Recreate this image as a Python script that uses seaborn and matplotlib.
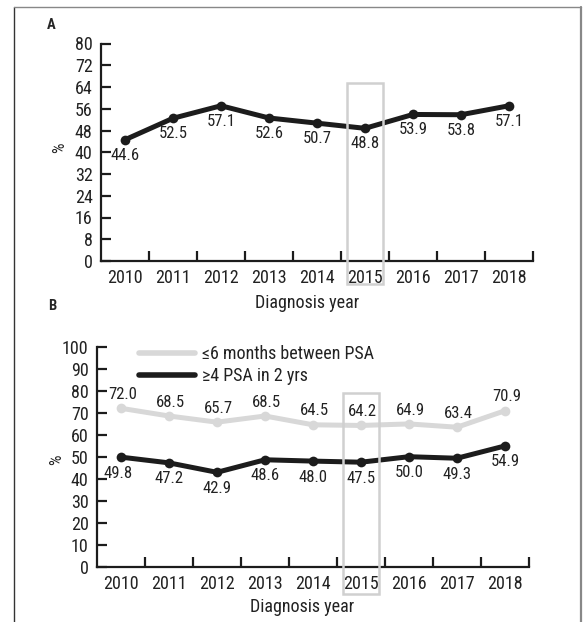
import matplotlib
matplotlib.use("Agg")
import matplotlib.pyplot as plt
from matplotlib import font_manager as fm
from matplotlib.patches import Rectangle
from matplotlib.lines import Line2D
import seaborn as sns
import pandas as pd

years = ["2010", "2011", "2012", "2013", "2014", "2015", "2016", "2017", "2018"]
panel_a = [44.6, 52.5, 57.1, 52.6, 50.7, 48.8, 53.9, 53.8, 57.1]
within_6m = [72.0, 68.5, 65.7, 68.5, 64.5, 64.2, 64.9, 63.4, 70.9]
four_psa = [49.8, 47.2, 42.9, 48.6, 48.0, 47.5, 50.0, 49.3, 54.9]
label_6m = "≤6 months between PSA"
label_4psa = "≥4 PSA in 2 yrs"
highlight_year = "2015"

sns.set_theme(style="white")

# pick a condensed sans if one is installed
names = {f.name for f in fm.fontManager.ttflist}
family = ["Liberation Sans", "DejaVu Sans"]
stretch = "normal"
for cand in ["Liberation Sans Narrow", "Roboto Condensed", "Open Sans Condensed", "Noto Sans Condensed"]:
    if cand in names:
        family = [cand, "Liberation Sans", "DejaVu Sans"]
        break
else:
    cond = [f for f in fm.fontManager.ttflist
            if f.name in ("DejaVu Sans", "Noto Sans", "Open Sans", "Roboto")
            and f.style == "normal" and "ondensed" in f.fname]
    if cond:
        family = [cond[0].name, "DejaVu Sans"]
        stretch = "condensed"
plt.rcParams["font.family"] = family
plt.rcParams["font.stretch"] = stretch

BLACK = "#1c1c1c"
GRAY = "#d8d8d8"
BOXC = "#d0d0d0"
TXT = "#222222"

fig = plt.figure(figsize=(5.86, 6.22), dpi=100)
W, H = 586, 622

def axes_px(left, top, right, bottom):
    return fig.add_axes([left / W, 1 - bottom / H, (right - left) / W, (bottom - top) / H])

axA = axes_px(101, 43.5, 533, 261)
axB = axes_px(97, 346.7, 529, 566.7)

dfA = pd.DataFrame({"year": years, "pct": panel_a})
dfB = pd.DataFrame({
    "year": years * 2,
    "pct": within_6m + four_psa,
    "series": [label_6m] * len(years) + [label_4psa] * len(years),
})

sns.lineplot(data=dfA, x="year", y="pct", ax=axA, color=BLACK, lw=3.6,
             marker="o", markersize=7, markeredgewidth=0, sort=False, zorder=3)
sns.lineplot(data=dfB, x="year", y="pct", hue="series", ax=axB,
             palette={label_6m: GRAY, label_4psa: BLACK}, lw=3.6,
             marker="o", markersize=7, markeredgewidth=0, sort=False, zorder=3)

FS_TICK = 13
FS_VAL = 12

def style_axis(ax, ymax, step):
    ax.set_xlim(-0.5, 8.5)
    ax.set_ylim(0, ymax)
    ax.set_yticks(range(0, ymax + 1, step))
    ax.set_xticks(range(len(years)))
    ax.set_xticklabels(years)
    ax.set_xticks([i + 0.5 for i in range(len(years))], minor=True)
    for s in ["top", "right"]:
        ax.spines[s].set_visible(False)
    for s in ["left", "bottom"]:
        ax.spines[s].set_linewidth(1.6)
        ax.spines[s].set_color(BLACK)
    ax.tick_params(axis="y", which="major", direction="in", length=7, width=1.6,
                   color=BLACK, labelsize=FS_TICK, pad=6, labelcolor=TXT, left=True)
    ax.tick_params(axis="x", which="major", length=0, labelsize=FS_TICK, pad=6,
                   labelcolor=TXT, bottom=True)
    ax.tick_params(axis="x", which="minor", direction="in", length=7, width=1.6,
                   color=BLACK, bottom=True)
    ax.set_xlabel("Diagnosis year", fontsize=FS_TICK, color=TXT)
    ax.set_ylabel("%", fontsize=12, color=TXT)
    ax.grid(False)
    ax.set_facecolor("none")

style_axis(axA, 80, 8)
style_axis(axB, 100, 10)
axA.xaxis.set_label_coords(0.477, -0.153)
axA.yaxis.set_label_coords(-0.079, 0.52)
axB.xaxis.set_label_coords(0.475, -0.142)
axB.yaxis.set_label_coords(-0.076, 0.485)

# value labels
for i, v in enumerate(panel_a):
    axA.annotate(f"{v:.1f}", (i, v), xytext=(0, -11), textcoords="offset points",
                 ha="center", va="center", fontsize=FS_VAL, color=TXT, zorder=4)
for i, v in enumerate(within_6m):
    axB.annotate(f"{v:.1f}", (i, v), xytext=(1, 10), textcoords="offset points",
                 ha="center", va="center", fontsize=FS_VAL, color=TXT, zorder=4)
for i, v in enumerate(four_psa):
    axB.annotate(f"{v:.1f}", (i, v), xytext=(-2 if i == 0 else 0, -11.5), textcoords="offset points",
                 ha="center", va="center", fontsize=FS_VAL, color=TXT, zorder=4)

# highlight box
hi = years.index(highlight_year)
for ax, y0, y1 in [(axA, -8.4, 65.3), (axB, -12.4, 79.0)]:
    r = Rectangle((hi - 0.37, y0), 0.74, y1 - y0, fill=False, edgecolor=BOXC, lw=1.8,
                  clip_on=False, zorder=5)
    ax.add_patch(r)

# legend
leg = axB.legend(loc="upper left", bbox_to_anchor=(0.06, 1.08), frameon=False,
                 fontsize=FS_TICK, handlelength=3.1, handletextpad=0.4, labelspacing=0.2,
                 title=None)
for h in leg.legend_handles:
    h.set_linewidth(4.0)
    h.set_marker("")
for t in leg.get_texts():
    t.set_color(TXT)

# panel letters
fig.text(51 / W, 1 - 25 / H, "A", fontsize=10.5, fontweight="bold", ha="center", va="center")
fig.text(52.5 / W, 1 - 305.5 / H, "B", fontsize=10.5, fontweight="bold", ha="center", va="center")

# frame
fig.add_artist(Line2D([14 / W, 14 / W], [0, 1 - 7 / H], color="#333333", lw=1.0))
fig.add_artist(Line2D([14 / W, 581 / W], [1 - 7 / H, 1 - 7 / H], color="#888888", lw=1.0))
fig.add_artist(Line2D([581 / W, 581 / W], [0, 1 - 7 / H], color="#888888", lw=1.6))

fig.savefig("out.png", dpi=100)
